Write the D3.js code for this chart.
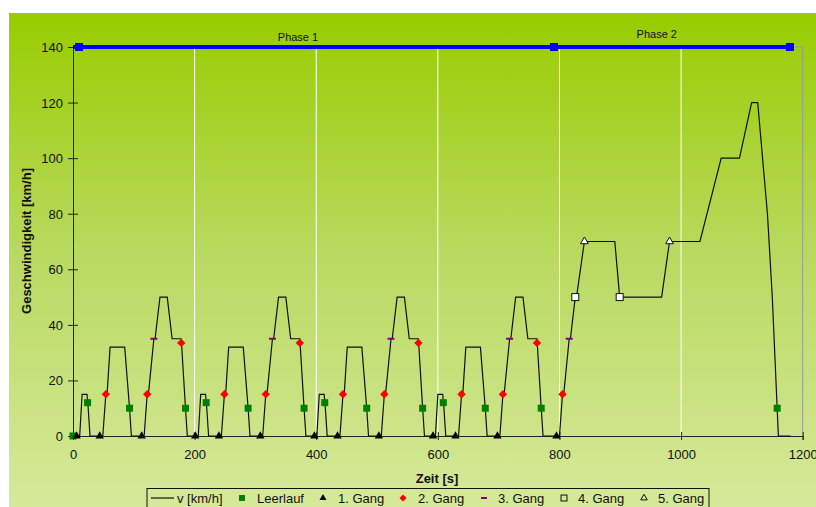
<!DOCTYPE html>
<html>
<head>
<meta charset="utf-8">
<script src="https://cdn.jsdelivr.net/npm/d3@7"></script>
<style>
  body { margin: 0; background: #fff; }
  svg text { font-family: "Liberation Sans", Arial, sans-serif; }
</style>
</head>
<body>
<svg id="chart" width="816" height="507"></svg>
<script>
// speed curve (NEDC)
const timeS = [0, 11, 15, 23, 25, 28, 49, 54, 56, 61, 85, 93, 96, 117, 122, 124, 133, 135, 143, 155, 163, 178, 185, 188,
  195, 206, 210, 218, 220, 223, 244, 249, 251, 256, 280, 288, 291, 312, 317, 319, 328, 330, 338, 350, 358, 373, 380, 383,
  390, 401, 405, 413, 415, 418, 439, 444, 446, 451, 475, 483, 486, 507, 512, 514, 523, 525, 533, 545, 553, 568, 575, 578,
  585, 596, 600, 608, 610, 613, 634, 639, 641, 646, 670, 678, 681, 702, 707, 709, 718, 720, 728, 740, 748, 763, 770, 773,
  780, 800, 805, 807, 816, 818, 826, 828, 841, 891, 899, 968, 981, 1031, 1066, 1096, 1116, 1126, 1142, 1150, 1160, 1180];
const speedKmh = [0, 0, 15, 15, 10, 0, 0, 15, 15, 32, 32, 10, 0, 0, 15, 15, 35, 35, 50, 50, 35, 35, 10, 0,
  0, 0, 15, 15, 10, 0, 0, 15, 15, 32, 32, 10, 0, 0, 15, 15, 35, 35, 50, 50, 35, 35, 10, 0,
  0, 0, 15, 15, 10, 0, 0, 15, 15, 32, 32, 10, 0, 0, 15, 15, 35, 35, 50, 50, 35, 35, 10, 0,
  0, 0, 15, 15, 10, 0, 0, 15, 15, 32, 32, 10, 0, 0, 15, 15, 35, 35, 50, 50, 35, 35, 10, 0,
  0, 0, 15, 15, 35, 35, 50, 50, 70, 70, 50, 50, 70, 70, 100, 100, 120, 120, 80, 50, 0, 0];

// gear markers
const idleT = [0, 24, 93, 185, 219, 288, 380, 414, 483, 575, 609, 678, 770, 1158];
const idleV = [0, 12, 10, 10, 12, 10, 10, 12, 10, 10, 12, 10, 10, 10];
const gear1T = [6, 44, 113, 201, 240, 308, 397, 435, 503, 592, 629, 698, 795];
const gear1V = [0, 0, 0, 0, 0, 0, 0, 0, 0, 0, 0, 0, 0];
const gear2T = [54, 122, 178, 249, 317, 373, 444, 512, 568, 639, 707, 763, 805];
const gear2V = [15, 15, 33.5, 15, 15, 33.5, 15, 15, 33.5, 15, 15, 33.5, 15];
const gear3T = [133, 328, 523, 718, 816];
const gear3V = [35, 35, 35, 35, 35];
const gear4T = [826, 899];
const gear4V = [50, 50];
const gear5T = [841, 981];
const gear5V = [70, 70];

// phase bar
const phaseT = [0, 10, 791, 1179];
const phaseMarkT = [10, 791, 1179];
const phaseV = 140;
const phaseLabels = ["Phase 1", "Phase 2"];
const phaseLabelT = [370, 960];

const xTicks = [0, 200, 400, 600, 800, 1000, 1200];
const yTicks = [0, 20, 40, 60, 80, 100, 120, 140];

const svg = d3.select('#chart');
const W = 816, H = 507;

// background gradient
const defs = svg.append('defs');
const grad = defs.append('linearGradient').attr('id', 'bg')
    .attr('x1', 0).attr('y1', 0).attr('x2', 0).attr('y2', 1);
grad.append('stop').attr('offset', '0%').attr('stop-color', '#99cc00');
grad.append('stop').attr('offset', '50%').attr('stop-color', '#b9da62');
grad.append('stop').attr('offset', '100%').attr('stop-color', '#d6e99a');
svg.append('rect').attr('x', 9).attr('y', 13).attr('width', W - 9).attr('height', H - 13)
    .attr('fill', 'url(#bg)');

const x = d3.scaleLinear().domain([0, 1200]).range([73, 802.7]);
const y = d3.scaleLinear().domain([0, 140]).range([436, 47]);

// vertical grid lines
svg.append('g').selectAll('line')
    .data(xTicks.slice(1, -1))
    .enter().append('line')
    .attr('x1', d => x(d)).attr('x2', d => x(d))
    .attr('y1', y(140)).attr('y2', y(0))
    .attr('stroke', '#ffffff').attr('stroke-width', 1);

// plot border top / right
svg.append('path')
    .attr('d', `M${x(0)},${y(140)}H${x(1200)}V${y(0)}`)
    .attr('fill', 'none').attr('stroke', '#999').attr('stroke-width', 1);

// axes
const xAxis = svg.append('g')
    .attr('transform', `translate(0,${y(0)})`)
    .call(d3.axisBottom(x).tickValues(xTicks).tickFormat(d3.format('d'))
        .tickSizeOuter(0).tickSize(4).tickPadding(10));
xAxis.selectAll('.tick line').attr('y1', -4).attr('y2', 4);
const yAxis = svg.append('g')
    .attr('transform', `translate(${x(0)},0)`)
    .call(d3.axisLeft(y).tickValues(yTicks).tickSizeOuter(0).tickSize(5).tickPadding(5));
yAxis.selectAll('.tick line').attr('x1', 5).attr('x2', -5);
[xAxis, yAxis].forEach(a => {
    a.select('.domain').attr('stroke', '#222');
    a.selectAll('.tick line').attr('stroke', '#222');
    a.selectAll('.tick text').attr('font-size', 13).attr('fill', '#111')
        .attr('font-family', '"Liberation Sans", Arial, sans-serif');
});
yAxis.selectAll('.tick text').attr('dy', '0.35em');

// axis titles
svg.append('text').attr('x', 437).attr('y', 483).attr('text-anchor', 'middle')
    .attr('font-size', 13).attr('font-weight', 'bold').attr('fill', '#111').text('Zeit [s]');
svg.append('text').attr('transform', 'translate(31,241) rotate(-90)').attr('text-anchor', 'middle')
    .attr('font-size', 13).attr('font-weight', 'bold').attr('fill', '#111').text('Geschwindigkeit [km/h]');

// speed line
const line = d3.line().x(d => x(d[0])).y(d => y(d[1]));
svg.append('path')
    .datum(timeS.map((t, i) => [t, speedKmh[i]]))
    .attr('d', line)
    .attr('fill', 'none').attr('stroke', '#111').attr('stroke-width', 1.2);

// phase line
svg.append('path')
    .datum(phaseT.map(t => [t, phaseV]))
    .attr('d', line)
    .attr('fill', 'none').attr('stroke', '#0000ff').attr('stroke-width', 4);
svg.append('g').selectAll('rect')
    .data(phaseMarkT)
    .enter().append('rect')
    .attr('x', d => x(d) - 4).attr('y', y(phaseV) - 4)
    .attr('width', 8).attr('height', 8).attr('fill', '#0000ff');
svg.append('g').selectAll('text')
    .data(phaseLabels)
    .enter().append('text')
    .attr('x', (d, i) => x(phaseLabelT[i])).attr('y', (d, i) => i === 0 ? 41 : 38)
    .attr('text-anchor', 'middle').attr('font-size', 11).attr('fill', '#111')
    .text(d => d);

// marker drawing helper
function drawMarkers(ts, vs, kind) {
    const g = svg.append('g');
    ts.forEach((t, i) => drawSymbol(g, x(t), y(vs[i]), kind, 1));
}

function drawSymbol(g, cx, cy, kind, k) {
    if (kind === 'idle') {
        const s = 3.5 * k;
        g.append('rect').attr('x', cx - s).attr('y', cy - s).attr('width', 2 * s).attr('height', 2 * s)
            .attr('fill', '#008000');
    } else if (kind === 'g1') {
        g.append('path').attr('transform', `translate(${cx},${cy})`)
            .attr('d', d3.symbol(d3.symbolTriangle, 30 * k * k)()).attr('fill', '#000');
    } else if (kind === 'g2') {
        const s = 4.2 * k;
        g.append('path')
            .attr('d', `M${cx},${cy - s}L${cx + s},${cy}L${cx},${cy + s}L${cx - s},${cy}Z`)
            .attr('fill', '#ff0000');
    } else if (kind === 'g3') {
        g.append('rect').attr('x', cx - 3.5 * k).attr('y', cy - 1).attr('width', 7 * k).attr('height', 2)
            .attr('fill', '#800080');
    } else if (kind === 'g4') {
        const s = 3.5 * k;
        g.append('rect').attr('x', cx - s).attr('y', cy - s).attr('width', 2 * s).attr('height', 2 * s)
            .attr('fill', k < 1 ? 'none' : '#fff').attr('stroke', '#111').attr('stroke-width', 1);
    } else if (kind === 'g5') {
        g.append('path').attr('transform', `translate(${cx},${cy})`)
            .attr('d', d3.symbol(d3.symbolTriangle, 26 * k * k)()).attr('fill', k < 1 ? 'none' : '#fff')
            .attr('stroke', '#111').attr('stroke-width', 1);
    }
}

drawMarkers(idleT, idleV, 'idle');
drawMarkers(gear1T, gear1V, 'g1');
drawMarkers(gear2T, gear2V, 'g2');
drawMarkers(gear3T, gear3V, 'g3');
drawMarkers(gear4T, gear4V, 'g4');
drawMarkers(gear5T, gear5V, 'g5');

// legend
const legendItems = [
    {kind: 'line', label: 'v [km/h]', sx: 162, tx: 177},
    {kind: 'idle', label: 'Leerlauf', sx: 242, tx: 257},
    {kind: 'g1', label: '1. Gang', sx: 323, tx: 338},
    {kind: 'g2', label: '2. Gang', sx: 403, tx: 418},
    {kind: 'g3', label: '3. Gang', sx: 484, tx: 498},
    {kind: 'g4', label: '4. Gang', sx: 564, tx: 578},
    {kind: 'g5', label: '5. Gang', sx: 644, tx: 658}
];
const lg = svg.append('g');
lg.append('rect').attr('x', 147).attr('y', 488.5).attr('width', 562).attr('height', 24)
    .attr('fill', 'none').attr('stroke', '#111').attr('stroke-width', 1);
legendItems.forEach(it => {
    const cy = 498;
    if (it.kind === 'line') {
        lg.append('line').attr('x1', 151).attr('x2', 174).attr('y1', cy).attr('y2', cy)
            .attr('stroke', '#111').attr('stroke-width', 1.2);
    } else {
        drawSymbol(lg, it.sx, cy, it.kind, 0.85);
    }
    lg.append('text').attr('x', it.tx).attr('y', cy + 5).attr('font-size', 13).attr('fill', '#111')
        .text(it.label);
});
</script>
</body>
</html>
